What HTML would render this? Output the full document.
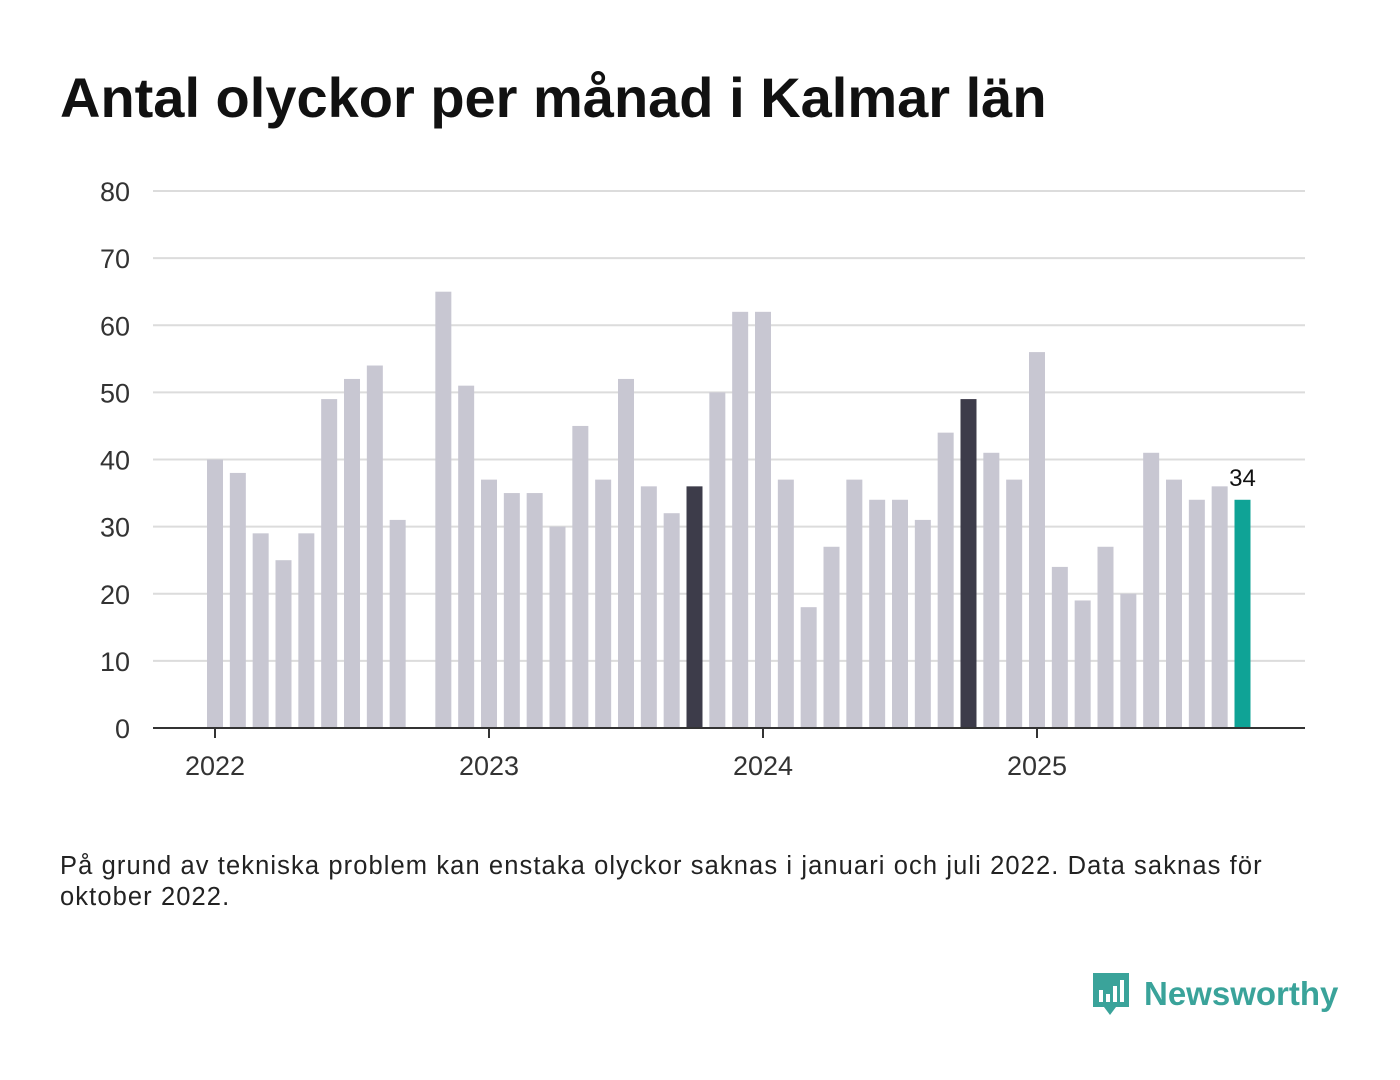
<!DOCTYPE html>
<html><head><meta charset="utf-8"><style>
body{margin:0;width:1400px;height:1080px;background:#fff;font-family:"Liberation Sans",sans-serif;overflow:hidden;position:relative}
h1{position:absolute;left:60px;top:65px;margin:0;font-size:56px;font-weight:bold;color:#111;letter-spacing:0px}
.note{position:absolute;left:60px;top:851px;font-size:25.5px;color:#222;line-height:31px;width:1220px;letter-spacing:1.1px}
.logo{position:absolute;left:1090px;top:970px;display:flex;align-items:center;color:#3aa39a;font-size:33px;font-weight:bold}
</style></head><body>
<h1>Antal olyckor per månad i Kalmar län</h1>
<svg id="chart" width="1400" height="820" style="position:absolute;left:0;top:0"></svg>
<div class="note">På grund av tekniska problem kan enstaka olyckor saknas i januari och juli 2022. Data saknas för oktober 2022.</div>
<div class="logo">
<svg width="42" height="48" viewBox="0 0 42 48"><path d="M3 3h36v34H26l-6 8-6-8H3z" fill="#3aa39a"/><rect x="9" y="20" width="4" height="12" fill="#fff"/><rect x="16" y="24" width="4" height="8" fill="#fff"/><rect x="23" y="16" width="4" height="16" fill="#fff"/><rect x="30" y="10" width="4" height="22" fill="#fff"/></svg>
<span style="margin-left:12px">Newsworthy</span></div>
<script>
const values=[40,38,29,25,29,49,52,54,31,null,65,51,
37,35,35,30,45,37,52,36,32,36,50,62,
62,37,18,27,37,34,34,31,44,49,41,37,
56,24,19,27,20,41,37,34,36,34];
const highlights=[21,33];
const yTicks=[0,10,20,30,40,50,60,70,80];
const years=["2022","2023","2024","2025"];
const NS="http://www.w3.org/2000/svg",svg=document.getElementById('chart');
const y=v=>728-v*(537/80), x=i=>215+i*(274/12);
function el(t,a){const e=document.createElementNS(NS,t);for(const k in a)e.setAttribute(k,a[k]);svg.appendChild(e);return e;}
yTicks.forEach(t=>{
 const g=el('line',{x1:153,x2:1305,y1:y(t),y2:y(t),stroke:'#dcdcdc','stroke-width':2});
 
 
 const l=el('text',{x:130,y:y(t)+10,'text-anchor':'end','font-size':27,fill:'#333','font-family':'Liberation Sans'});
 l.textContent=t;
 
 
});
values.forEach((v,i)=>{
 if(v==null)return;
 const last=i===values.length-1;
 const c=last?'#0fa396':highlights.includes(i)?'#3d3c4a':'#c8c7d2';
 const r=el('rect',{x:x(i)-8,y:y(v),width:16,height:728-y(v),fill:c});
 
 
 if(last){const t=el('text',{x:x(i),y:y(v)-14,'text-anchor':'middle','font-size':24,fill:'#111','font-family':'Liberation Sans'});t.textContent=v;
 
 }
});
const ax=el('line',{x1:153,x2:1305,y1:728,y2:728,stroke:'#333','stroke-width':2});


years.forEach((yr,k)=>{
 const px=x(k*12);
 const tk=el('line',{x1:px,x2:px,y1:728,y2:738,stroke:'#333','stroke-width':2});
 
 
 const t=el('text',{x:px,y:775,'text-anchor':'middle','font-size':27,fill:'#333','font-family':'Liberation Sans'});
 t.textContent=yr;
 
 
});
</script>
</body></html>
